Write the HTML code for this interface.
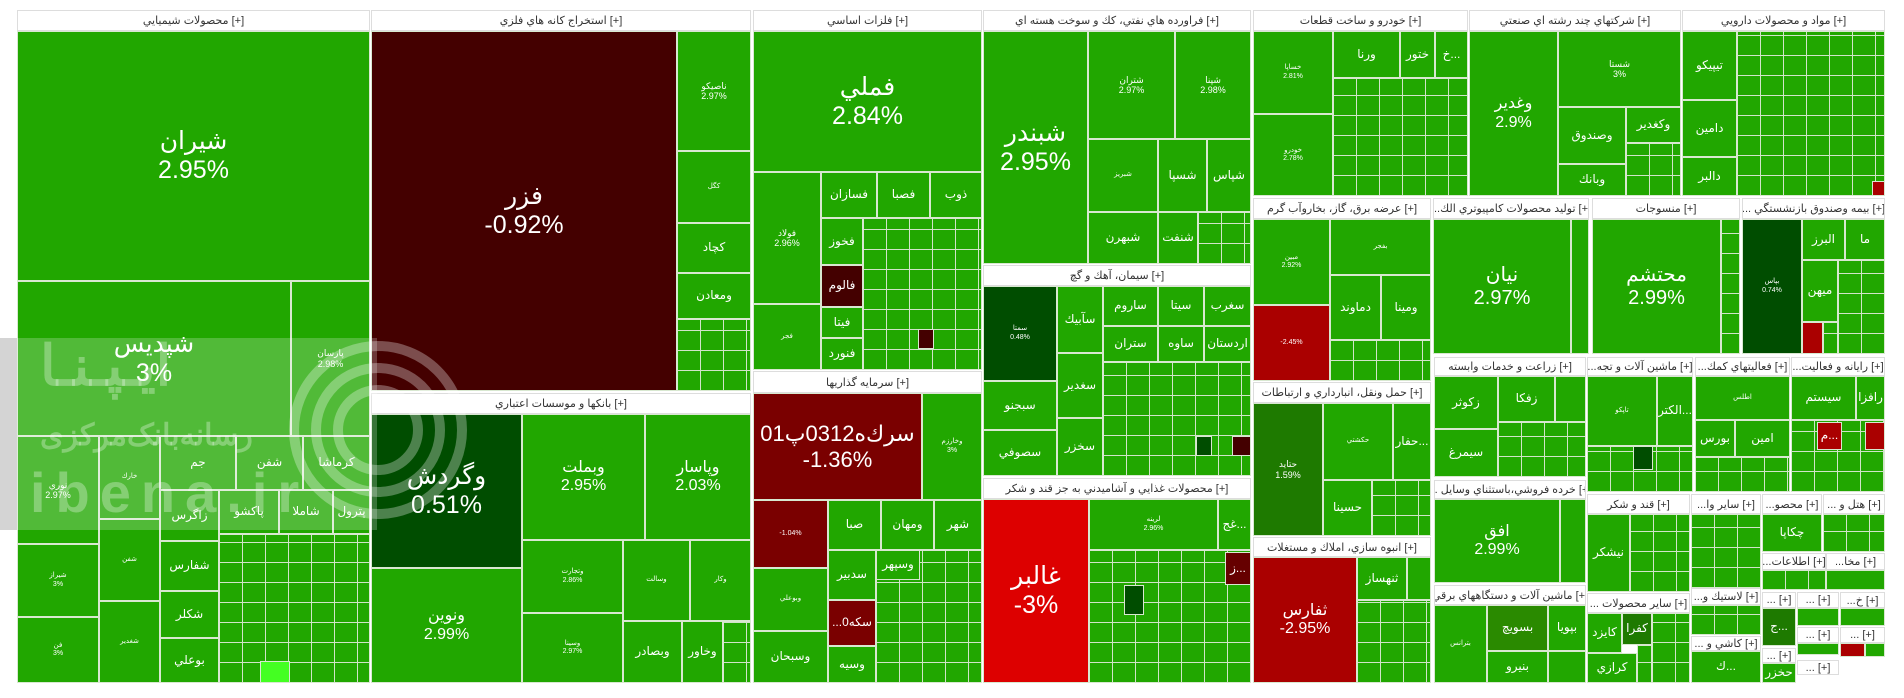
<!DOCTYPE html>
<html><head><meta charset="utf-8"><style>
body{margin:0;width:1904px;height:698px;background:#fff;position:relative;overflow:hidden;font-family:"Liberation Sans","DejaVu Sans",sans-serif}
.c{position:absolute;box-sizing:border-box;background:#21a700;border:1px solid #d8e8d0;color:#fff;display:flex;align-items:center;justify-content:center;text-align:center;font-size:12px;line-height:1.15;overflow:hidden;white-space:nowrap}
.h{position:absolute;box-sizing:border-box;background:#fff;border:1px solid #ddd;color:#333;font-size:11px;display:flex;align-items:center;justify-content:center;overflow:hidden;white-space:nowrap}
.g{position:absolute;box-sizing:border-box;background-color:#21a700;border:1px solid #d8e8d0;background-image:repeating-linear-gradient(90deg,transparent 0 22px,#d0e4c8 22px 23px),repeating-linear-gradient(0deg,transparent 0 19px,#d0e4c8 19px 20px)}
.b{font-size:25px}.m{font-size:16px}.s{font-size:9px}.t{font-size:7px}
</style></head><body>
<!-- Chemicals -->
<div class="h" style="left:17px;top:10px;width:353px;height:21px">محصولات شيميايي [+]</div>
<div class="c b" style="left:17px;top:31px;width:353px;height:250px">شيران<br>2.95%</div>
<div class="c b" style="left:17px;top:281px;width:274px;height:155px">شپديس<br>3%</div>
<div class="c s" style="left:291px;top:281px;width:79px;height:155px">پارسان<br>2.98%</div>
<div class="c s" style="left:17px;top:436px;width:82px;height:108px">نوري<br>2.97%</div>
<div class="c t" style="left:17px;top:544px;width:82px;height:73px">شيراز<br>3%</div>
<div class="c t" style="left:17px;top:617px;width:82px;height:66px">فن<br>3%</div>
<div class="c t" style="left:99px;top:436px;width:61px;height:83px">خارك</div>
<div class="c t" style="left:99px;top:519px;width:61px;height:82px">شفن</div>
<div class="c t" style="left:99px;top:601px;width:61px;height:82px">شغدير</div>
<div class="c" style="left:160px;top:436px;width:76px;height:54px">جم</div>
<div class="c" style="left:236px;top:436px;width:67px;height:54px">شفن</div>
<div class="c" style="left:303px;top:436px;width:67px;height:54px">كرماشا</div>
<div class="c" style="left:160px;top:490px;width:59px;height:51px">زاگرس</div>
<div class="c" style="left:219px;top:490px;width:60px;height:44px">پاكشو</div>
<div class="c" style="left:279px;top:490px;width:54px;height:44px">شاملا</div>
<div class="c" style="left:333px;top:490px;width:37px;height:44px">پترول</div>
<div class="c" style="left:160px;top:541px;width:59px;height:50px">شفارس</div>
<div class="c" style="left:160px;top:591px;width:59px;height:47px">شكلر</div>
<div class="c" style="left:160px;top:638px;width:59px;height:45px">بوعلي</div>
<div class="g" style="left:219px;top:534px;width:151px;height:149px"></div>
<div class="c" style="left:260px;top:661px;width:30px;height:22px;background:#44ff22"></div>
<!-- Mining -->
<div class="h" style="left:371px;top:10px;width:380px;height:21px">استخراج كانه هاي فلزي [+]</div>
<div class="c b" style="left:371px;top:31px;width:306px;height:360px;background:#440000">فزر<br>-0.92%</div>
<div class="c s" style="left:677px;top:31px;width:74px;height:120px">ناصيكو<br>2.97%</div>
<div class="c t" style="left:677px;top:151px;width:74px;height:72px">كگل</div>
<div class="c" style="left:677px;top:223px;width:74px;height:50px">كچاد</div>
<div class="c" style="left:677px;top:273px;width:74px;height:46px">ومعادن</div>
<div class="g" style="left:677px;top:319px;width:74px;height:72px"></div>
<!-- Banks -->
<div class="h" style="left:371px;top:393px;width:380px;height:21px">بانكها و موسسات اعتباري [+]</div>
<div class="c b" style="left:371px;top:414px;width:151px;height:154px;background:#004d00">وگردش<br>0.51%</div>
<div class="c m" style="left:371px;top:568px;width:151px;height:115px">ونوين<br>2.99%</div>
<div class="c m" style="left:522px;top:414px;width:123px;height:126px">وبملت<br>2.95%</div>
<div class="c m" style="left:645px;top:414px;width:106px;height:126px">وپاسار<br>2.03%</div>
<div class="c t" style="left:522px;top:540px;width:101px;height:73px">وتجارت<br>2.86%</div>
<div class="c t" style="left:522px;top:613px;width:101px;height:70px">وسينا<br>2.97%</div>
<div class="c t" style="left:623px;top:540px;width:67px;height:81px">وسالت</div>
<div class="c t" style="left:690px;top:540px;width:61px;height:81px">وكار</div>
<div class="c" style="left:623px;top:621px;width:59px;height:62px">وبصادر</div>
<div class="c" style="left:682px;top:621px;width:41px;height:62px">وخاور</div>
<div class="g" style="left:723px;top:621px;width:28px;height:62px"></div>
<!-- Metals -->
<div class="h" style="left:753px;top:10px;width:229px;height:21px">فلزات اساسي [+]</div>
<div class="c b" style="left:753px;top:31px;width:229px;height:141px">فملي<br>2.84%</div>
<div class="c s" style="left:753px;top:172px;width:68px;height:132px">فولاد<br>2.96%</div>
<div class="c t" style="left:753px;top:304px;width:68px;height:66px">فجر</div>
<div class="c" style="left:821px;top:172px;width:56px;height:46px">فسازان</div>
<div class="c" style="left:877px;top:172px;width:53px;height:46px">فصبا</div>
<div class="c" style="left:930px;top:172px;width:52px;height:46px">ذوب</div>
<div class="c" style="left:821px;top:218px;width:42px;height:47px">فخوز</div>
<div class="c" style="left:821px;top:265px;width:42px;height:42px;background:#440000">فالوم</div>
<div class="c" style="left:821px;top:307px;width:42px;height:31px">فيتا</div>
<div class="c" style="left:821px;top:338px;width:42px;height:32px">فنورد</div>
<div class="g" style="left:863px;top:218px;width:119px;height:152px"></div>
<div class="c" style="left:918px;top:329px;width:16px;height:20px;background:#440000"></div>
<!-- Investment -->
<div class="h" style="left:753px;top:371px;width:229px;height:22px">سرمايه گذاريها [+]</div>
<div class="c b" style="left:753px;top:393px;width:169px;height:107px;background:#7a0000;font-size:22px">سرك‌ه0312پ01<br>-1.36%</div>
<div class="c t" style="left:922px;top:393px;width:60px;height:107px">وخارزم<br>3%</div>
<div class="c t" style="left:753px;top:500px;width:75px;height:68px;background:#7a0000">-1.04%</div>
<div class="c t" style="left:753px;top:568px;width:75px;height:63px">وبوعلي</div>
<div class="c" style="left:753px;top:631px;width:75px;height:52px">وسبحان</div>
<div class="c" style="left:828px;top:500px;width:53px;height:50px">صبا</div>
<div class="c" style="left:881px;top:500px;width:53px;height:50px">ومهان</div>
<div class="c" style="left:934px;top:500px;width:48px;height:50px">شهر</div>
<div class="c" style="left:828px;top:550px;width:48px;height:50px">سدبير</div>
<div class="c" style="left:828px;top:600px;width:48px;height:46px;background:#7a0000">...سكه0</div>
<div class="c" style="left:828px;top:646px;width:48px;height:37px">وسيه</div>
<div class="g" style="left:876px;top:550px;width:106px;height:133px"></div>
<div class="c" style="left:876px;top:550px;width:44px;height:30px">وسپهر</div>
<!-- Petroleum -->
<div class="h" style="left:983px;top:10px;width:268px;height:21px">فراورده هاي نفتي، كك و سوخت هسته اي [+]</div>
<div class="c b" style="left:983px;top:31px;width:105px;height:233px">شبندر<br>2.95%</div>
<div class="c s" style="left:1088px;top:31px;width:87px;height:108px">شتران<br>2.97%</div>
<div class="c s" style="left:1175px;top:31px;width:76px;height:108px">شپنا<br>2.98%</div>
<div class="c t" style="left:1088px;top:139px;width:70px;height:73px">شبريز</div>
<div class="c" style="left:1158px;top:139px;width:49px;height:73px">شسپا</div>
<div class="c" style="left:1207px;top:139px;width:44px;height:73px">شپاس</div>
<div class="c" style="left:1088px;top:212px;width:70px;height:52px">شبهرن</div>
<div class="c" style="left:1158px;top:212px;width:40px;height:52px">شنفت</div>
<div class="g" style="left:1198px;top:212px;width:53px;height:52px"></div>
<!-- Cement -->
<div class="h" style="left:983px;top:265px;width:268px;height:21px">سيمان، آهك و گچ [+]</div>
<div class="c t" style="left:983px;top:286px;width:74px;height:95px;background:#004d00">سمتا<br>0.48%</div>
<div class="c" style="left:983px;top:381px;width:74px;height:49px">سبجنو</div>
<div class="c" style="left:983px;top:430px;width:74px;height:46px">سصوفي</div>
<div class="c" style="left:1057px;top:286px;width:46px;height:67px">سآبيك</div>
<div class="c" style="left:1057px;top:353px;width:46px;height:65px">سغدير</div>
<div class="c" style="left:1057px;top:418px;width:46px;height:58px">سخزر</div>
<div class="c" style="left:1103px;top:286px;width:55px;height:40px">ساروم</div>
<div class="c" style="left:1158px;top:286px;width:46px;height:40px">سيتا</div>
<div class="c" style="left:1204px;top:286px;width:47px;height:40px">سغرب</div>
<div class="c" style="left:1103px;top:326px;width:55px;height:36px">ستران</div>
<div class="c" style="left:1158px;top:326px;width:46px;height:36px">ساوه</div>
<div class="c" style="left:1204px;top:326px;width:47px;height:36px">اردستان</div>
<div class="g" style="left:1103px;top:362px;width:148px;height:114px"></div>
<div class="c" style="left:1196px;top:436px;width:16px;height:20px;background:#004d00"></div>
<div class="c" style="left:1232px;top:436px;width:19px;height:20px;background:#440000"></div>
<!-- Food -->
<div class="h" style="left:983px;top:478px;width:268px;height:21px">محصولات غذايي و آشاميدني به جز قند و شكر [+]</div>
<div class="c b" style="left:983px;top:499px;width:106px;height:184px;background:#dd0000">غالبر<br>-3%</div>
<div class="c t" style="left:1089px;top:499px;width:129px;height:51px">لرينه<br>2.96%</div>
<div class="c" style="left:1218px;top:499px;width:33px;height:51px">غج...</div>
<div class="g" style="left:1089px;top:550px;width:162px;height:133px"></div>
<div class="c" style="left:1225px;top:552px;width:26px;height:33px;background:#660000">ز...</div>
<div class="c" style="left:1124px;top:585px;width:20px;height:30px;background:#004d00"></div>
<!-- Auto -->
<div class="h" style="left:1253px;top:10px;width:215px;height:21px">خودرو و ساخت قطعات [+]</div>
<div class="c t" style="left:1253px;top:31px;width:80px;height:83px">خساپا<br>2.81%</div>
<div class="c t" style="left:1253px;top:114px;width:80px;height:82px">خودرو<br>2.78%</div>
<div class="c" style="left:1333px;top:31px;width:67px;height:47px">ورنا</div>
<div class="c" style="left:1400px;top:31px;width:35px;height:47px">ختور</div>
<div class="c" style="left:1435px;top:31px;width:33px;height:47px">خ...</div>
<div class="g" style="left:1333px;top:78px;width:135px;height:118px"></div>
<!-- Multi -->
<div class="h" style="left:1469px;top:10px;width:212px;height:21px">شركتهاي چند رشته اي صنعتي [+]</div>
<div class="c m" style="left:1469px;top:31px;width:89px;height:165px">وغدير<br>2.9%</div>
<div class="c s" style="left:1558px;top:31px;width:123px;height:76px">شستا<br>3%</div>
<div class="c" style="left:1558px;top:107px;width:68px;height:57px">وصندوق</div>
<div class="c" style="left:1626px;top:107px;width:55px;height:36px">وكغدير</div>
<div class="c" style="left:1558px;top:164px;width:68px;height:32px">وبانك</div>
<div class="g" style="left:1626px;top:143px;width:55px;height:53px"></div>
<!-- Pharma -->
<div class="h" style="left:1682px;top:10px;width:203px;height:21px">مواد و محصولات دارويي [+]</div>
<div class="c" style="left:1682px;top:31px;width:55px;height:69px">تيپيكو</div>
<div class="c" style="left:1682px;top:100px;width:55px;height:57px">دامين</div>
<div class="c" style="left:1682px;top:157px;width:55px;height:39px">دالبر</div>
<div class="g" style="left:1737px;top:31px;width:148px;height:165px"></div>
<div class="c" style="left:1872px;top:181px;width:13px;height:15px;background:#aa0000"></div>
<!-- Electricity -->
<div class="h" style="left:1253px;top:198px;width:178px;height:21px">عرضه برق، گاز، بخاروآب گرم [+]</div>
<div class="c t" style="left:1253px;top:219px;width:77px;height:86px">مبين<br>2.92%</div>
<div class="c t" style="left:1253px;top:305px;width:77px;height:76px;background:#aa0000">-2.45%</div>
<div class="c t" style="left:1330px;top:219px;width:101px;height:56px">بفجر</div>
<div class="c" style="left:1330px;top:275px;width:51px;height:65px">دماوند</div>
<div class="c" style="left:1381px;top:275px;width:50px;height:65px">ومينا</div>
<div class="g" style="left:1330px;top:340px;width:101px;height:41px"></div>
<!-- Transport -->
<div class="h" style="left:1253px;top:382px;width:178px;height:21px">حمل ونقل، انبارداري و ارتباطات [+]</div>
<div class="c s" style="left:1253px;top:403px;width:70px;height:133px;background:#1e7a00">حتايد<br>1.59%</div>
<div class="c t" style="left:1323px;top:403px;width:70px;height:77px">حكشتي</div>
<div class="c" style="left:1393px;top:403px;width:38px;height:77px">حفار...</div>
<div class="c" style="left:1323px;top:480px;width:49px;height:56px">حسينا</div>
<div class="g" style="left:1372px;top:480px;width:59px;height:56px"></div>
<!-- Real estate -->
<div class="h" style="left:1253px;top:537px;width:178px;height:20px">انبوه سازي، املاك و مستغلات [+]</div>
<div class="c m" style="left:1253px;top:557px;width:104px;height:126px;background:#aa0000">ثفارس<br>-2.95%</div>
<div class="c" style="left:1357px;top:557px;width:50px;height:43px">ثنهساز</div>
<div class="c" style="left:1407px;top:557px;width:24px;height:43px"></div>
<div class="g" style="left:1357px;top:600px;width:74px;height:83px"></div>
<!-- Computer -->
<div class="h" style="left:1433px;top:198px;width:156px;height:21px">...توليد محصولات كامپيوتري الك [+]</div>
<div class="c m" style="left:1433px;top:219px;width:138px;height:135px;font-size:20px">نيان<br>2.97%</div>
<div class="c" style="left:1571px;top:219px;width:18px;height:135px"></div>
<!-- Textiles -->
<div class="h" style="left:1592px;top:198px;width:148px;height:21px">منسوجات [+]</div>
<div class="c m" style="left:1592px;top:219px;width:129px;height:135px;font-size:20px">محتشم<br>2.99%</div>
<div class="g" style="left:1721px;top:219px;width:19px;height:135px"></div>
<!-- Insurance -->
<div class="h" style="left:1742px;top:198px;width:143px;height:21px">... بيمه وصندوق بازنشستگي [+]</div>
<div class="c t" style="left:1742px;top:219px;width:60px;height:135px;background:#004d00">بپاس<br>0.74%</div>
<div class="c" style="left:1802px;top:219px;width:43px;height:41px">البرز</div>
<div class="c" style="left:1845px;top:219px;width:40px;height:41px">ما</div>
<div class="c" style="left:1802px;top:260px;width:36px;height:62px">ميهن</div>
<div class="g" style="left:1838px;top:260px;width:47px;height:94px"></div>
<div class="c" style="left:1802px;top:322px;width:21px;height:32px;background:#aa0000"></div>
<div class="g" style="left:1823px;top:322px;width:15px;height:32px"></div>
<!-- Agriculture -->
<div class="h" style="left:1434px;top:357px;width:152px;height:19px">زراعت و خدمات وابسته [+]</div>
<div class="c" style="left:1434px;top:376px;width:64px;height:53px">زكوثر</div>
<div class="c" style="left:1498px;top:376px;width:57px;height:46px">زفكا</div>
<div class="c" style="left:1555px;top:376px;width:31px;height:46px"></div>
<div class="c" style="left:1434px;top:429px;width:64px;height:48px">سيمرغ</div>
<div class="g" style="left:1498px;top:422px;width:88px;height:55px"></div>
<!-- Retail -->
<div class="h" style="left:1434px;top:480px;width:152px;height:19px">... خرده فروشي،باستثناي وسايل [+]</div>
<div class="c m" style="left:1434px;top:499px;width:126px;height:84px">افق<br>2.99%</div>
<div class="c" style="left:1560px;top:499px;width:26px;height:84px"></div>
<!-- Electrical machinery -->
<div class="h" style="left:1434px;top:585px;width:152px;height:20px">ماشين آلات و دستگاههاي برقي [+]</div>
<div class="c t" style="left:1434px;top:605px;width:53px;height:78px">بترانس</div>
<div class="c" style="left:1487px;top:605px;width:61px;height:46px;background:#2a8a00">بسويچ</div>
<div class="c" style="left:1548px;top:605px;width:38px;height:46px">بپويا</div>
<div class="c" style="left:1487px;top:651px;width:61px;height:32px">بنيرو</div>
<div class="c" style="left:1548px;top:651px;width:38px;height:32px"></div>
<!-- Machinery -->
<div class="h" style="left:1587px;top:357px;width:106px;height:19px">...ماشين آلات و تجه [+]</div>
<div class="c t" style="left:1587px;top:376px;width:70px;height:70px">تاپكو</div>
<div class="c" style="left:1657px;top:376px;width:36px;height:70px">الكتر...</div>
<div class="g" style="left:1587px;top:446px;width:106px;height:46px"></div>
<div class="c" style="left:1633px;top:446px;width:20px;height:24px;background:#004d00"></div>
<!-- Support -->
<div class="h" style="left:1695px;top:357px;width:95px;height:19px">...فعاليتهاي كمك [+]</div>
<div class="c t" style="left:1695px;top:376px;width:95px;height:44px">اطلس</div>
<div class="c" style="left:1695px;top:420px;width:40px;height:37px">بورس</div>
<div class="c" style="left:1735px;top:420px;width:55px;height:37px">امين</div>
<div class="g" style="left:1695px;top:457px;width:95px;height:35px"></div>
<!-- Computer activities -->
<div class="h" style="left:1791px;top:357px;width:94px;height:19px">...رايانه و فعاليت [+]</div>
<div class="c" style="left:1791px;top:376px;width:65px;height:44px">سيستم</div>
<div class="c" style="left:1856px;top:376px;width:29px;height:44px">رافزا</div>
<div class="g" style="left:1791px;top:420px;width:94px;height:72px"></div>
<div class="c" style="left:1817px;top:422px;width:25px;height:28px;background:#aa0000">م...</div>
<div class="c" style="left:1865px;top:422px;width:20px;height:28px;background:#aa0000"></div>
<!-- Sugar -->
<div class="h" style="left:1587px;top:494px;width:103px;height:20px">قند و شكر [+]</div>
<div class="c" style="left:1587px;top:514px;width:43px;height:78px">نيشكر</div>
<div class="g" style="left:1630px;top:514px;width:60px;height:78px"></div>
<!-- Other products -->
<div class="h" style="left:1587px;top:593px;width:103px;height:20px">... ساير محصولات [+]</div>
<div class="c" style="left:1587px;top:613px;width:35px;height:40px">كايزد</div>
<div class="c" style="left:1622px;top:613px;width:30px;height:32px;background:#1e7a00">كفرا</div>
<div class="c" style="left:1587px;top:653px;width:50px;height:30px">كرازي</div>
<div class="g" style="left:1652px;top:613px;width:38px;height:70px"></div>
<div class="g" style="left:1637px;top:645px;width:15px;height:38px"></div>
<!-- small sectors -->
<div class="h" style="left:1691px;top:494px;width:70px;height:20px">...ساير وا [+]</div>
<div class="g" style="left:1691px;top:514px;width:70px;height:74px"></div>
<div class="h" style="left:1762px;top:494px;width:60px;height:20px">...محصو [+]</div>
<div class="c" style="left:1762px;top:514px;width:60px;height:38px">چكاپا</div>
<div class="h" style="left:1823px;top:494px;width:62px;height:20px">... هتل و [+]</div>
<div class="g" style="left:1823px;top:514px;width:62px;height:38px"></div>
<div class="h" style="left:1762px;top:553px;width:64px;height:17px">...اطلاعات [+]</div>
<div class="g" style="left:1762px;top:570px;width:64px;height:20px"></div>
<div class="h" style="left:1826px;top:553px;width:59px;height:17px">...مخا [+]</div>
<div class="c" style="left:1826px;top:570px;width:59px;height:20px"></div>
<div class="h" style="left:1691px;top:588px;width:70px;height:17px">...لاستيك و [+]</div>
<div class="g" style="left:1691px;top:605px;width:70px;height:30px"></div>
<div class="h" style="left:1762px;top:592px;width:34px;height:16px">... [+]</div>
<div class="c" style="left:1762px;top:608px;width:34px;height:38px;background:#1e7a00">ج...</div>
<div class="h" style="left:1797px;top:592px;width:42px;height:16px">... [+]</div>
<div class="c" style="left:1797px;top:608px;width:42px;height:18px"></div>
<div class="h" style="left:1840px;top:592px;width:45px;height:16px">...خ [+]</div>
<div class="c" style="left:1840px;top:608px;width:45px;height:18px"></div>
<div class="h" style="left:1797px;top:627px;width:42px;height:16px">... [+]</div>
<div class="c" style="left:1797px;top:643px;width:42px;height:12px"></div>
<div class="h" style="left:1840px;top:627px;width:45px;height:16px">... [+]</div>
<div class="c" style="left:1840px;top:643px;width:25px;height:14px;background:#aa0000"></div>
<div class="c" style="left:1865px;top:643px;width:20px;height:14px"></div>
<div class="h" style="left:1691px;top:636px;width:70px;height:15px">... كاشي و [+]</div>
<div class="c" style="left:1691px;top:651px;width:70px;height:32px">ك...</div>
<div class="h" style="left:1762px;top:648px;width:34px;height:15px">... [+]</div>
<div class="c" style="left:1762px;top:663px;width:34px;height:20px">حخزر</div>
<div class="h" style="left:1797px;top:660px;width:42px;height:15px">... [+]</div>
<!-- watermark -->
<div style="position:absolute;left:0;top:338px;width:17px;height:192px;background:#d4d4d4"></div>
<div style="position:absolute;left:17px;top:338px;width:360px;height:192px;background:rgba(255,255,255,0.22)"></div>
<svg style="position:absolute;left:0;top:0" width="1904" height="698">
<g fill="none" stroke="rgba(255,255,255,0.3)" stroke-width="10">
<circle cx="378" cy="430" r="40"/><circle cx="378" cy="430" r="62"/><circle cx="378" cy="430" r="84"/>
</g>
<text x="40" y="385" font-size="56" fill="rgba(255,255,255,0.3)" font-family="Liberation Sans, sans-serif" font-weight="bold">ايـپـنـا</text>
<text x="40" y="445" font-size="30" fill="rgba(255,255,255,0.3)" font-family="Liberation Sans, sans-serif" font-weight="bold">رسانه‌بانک‌مرکزی</text>
<text x="30" y="512" font-size="56" fill="rgba(255,255,255,0.3)" font-family="Liberation Sans, sans-serif" font-weight="bold" letter-spacing="10">ibena.ir</text>
</svg>
</body></html>
